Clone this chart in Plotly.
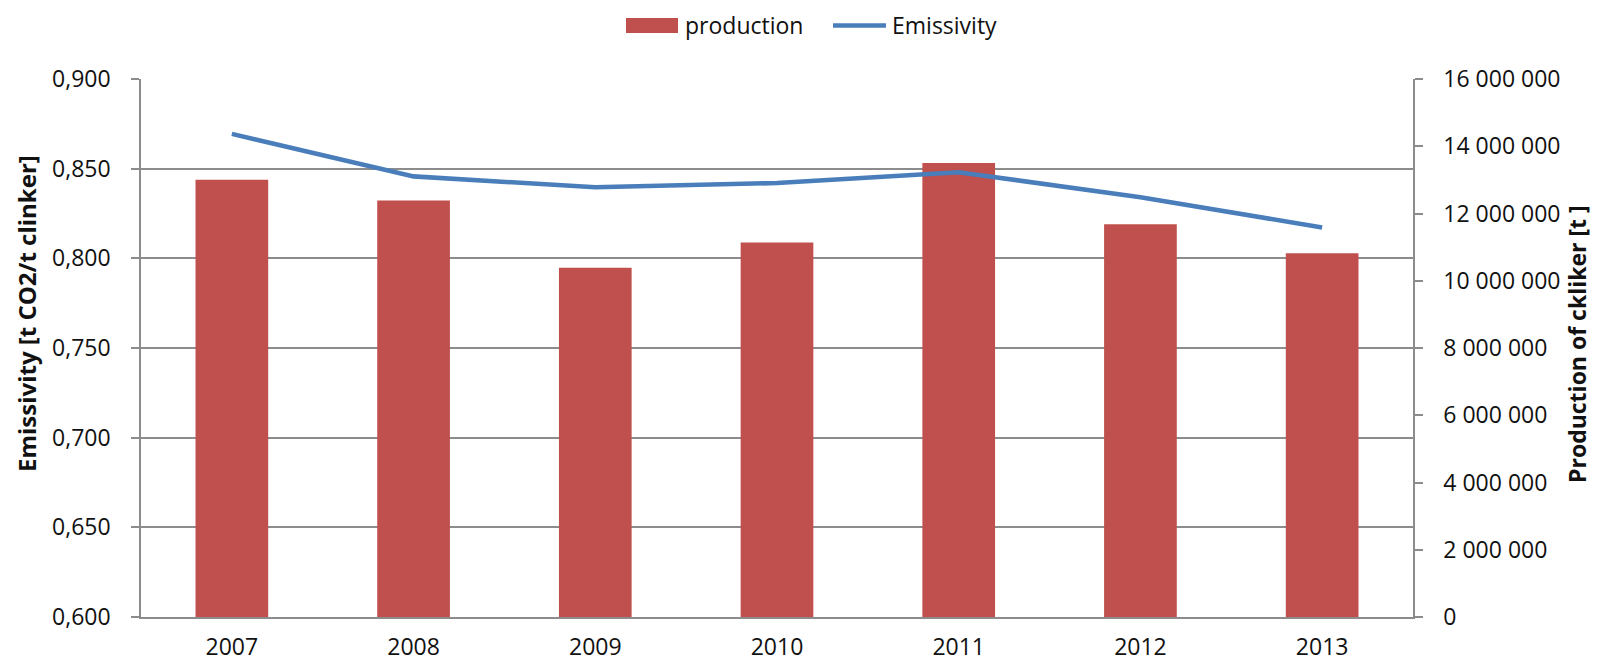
import plotly.graph_objects as go

years = ["2007", "2008", "2009", "2010", "2011", "2012", "2013"]
production = [13005000, 12390000, 10390000, 11135000, 13500000, 11680000, 10816000]
emissivity = [0.8694, 0.8457, 0.8396, 0.8420, 0.8480, 0.8341, 0.8172]

GRAY = "#8c8c8c"
FONT = "Open Sans"
BAR_COLOR = "#C0504D"
LINE_COLOR = "#4A7EBB"
TEXT = "#111111"

# plot area in pixels
W_FIG, H_FIG = 1599, 663
L, R, T, B = 141, 186, 79, 46
PW = W_FIG - L - R
PH = H_FIG - T - B


def px(xp):
    return (xp - L) / PW


def py(yp):
    return (H_FIG - B - yp) / PH


fig = go.Figure()
fig.add_trace(go.Bar(
    x=years, y=production, name="production",
    marker=dict(color=BAR_COLOR, line=dict(width=0)),
    yaxis="y", showlegend=False,
))
fig.add_trace(go.Scatter(
    x=years, y=emissivity, name="Emissivity", mode="lines",
    line=dict(color=LINE_COLOR, width=4.6),
    yaxis="y2", showlegend=False,
))

# legend (drawn as layout decorations)
shapes = [
    dict(type="rect", xref="paper", yref="paper",
         x0=px(626), x1=px(678), y0=py(33), y1=py(18),
         fillcolor=BAR_COLOR, line=dict(width=0)),
    dict(type="line", xref="paper", yref="paper",
         x0=px(833), x1=px(886), y0=py(25.5), y1=py(25.5),
         line=dict(color=LINE_COLOR, width=4.6)),
]
annotations = [
    dict(text="production", xref="paper", yref="paper", x=px(683), y=py(25.5),
         xanchor="left", yanchor="middle", showarrow=False,
         font=dict(family=FONT, size=23, color=TEXT)),
    dict(text="Emissivity", xref="paper", yref="paper", x=px(890), y=py(25.5),
         xanchor="left", yanchor="middle", showarrow=False,
         font=dict(family=FONT, size=23, color=TEXT)),
    dict(text="<b>Emissivity [t CO2/t clinker]</b>", textangle=-90,
         xref="paper", yref="paper", x=px(26), y=py(314),
         xanchor="center", yanchor="middle", showarrow=False,
         font=dict(family=FONT, size=24, color=TEXT)),
    dict(text="<b>Production of ckliker [t ]</b>", textangle=-90,
         xref="paper", yref="paper", x=px(1577), y=py(344),
         xanchor="center", yanchor="middle", showarrow=False,
         font=dict(family=FONT, size=23, color=TEXT)),
]

fig.update_layout(
    width=W_FIG, height=H_FIG,
    margin=dict(l=L, r=R, t=T, b=B, autoexpand=False),
    paper_bgcolor="white", plot_bgcolor="white",
    separators=", ",
    font=dict(family=FONT, size=23, color=TEXT),
    bargap=0.6,
    showlegend=False,
    xaxis=dict(
        type="category", showline=True, linecolor=GRAY, linewidth=1.5,
        ticks="", showgrid=False, ticklabelstandoff=9,
    ),
    yaxis=dict(
        side="right", range=[0, 16000000], dtick=2000000, tickformat=",d",
        showgrid=False, showline=True, linecolor=GRAY, linewidth=1.5,
        ticks="outside", ticklen=8, tickcolor=GRAY, tickwidth=1.5,
        ticklabelstandoff=16, zeroline=False,
    ),
    yaxis2=dict(
        overlaying="y", side="left", range=[0.6, 0.9], dtick=0.05, tickformat=".3f",
        showgrid=True, gridcolor=GRAY, gridwidth=1.5,
        showline=True, linecolor=GRAY, linewidth=1.5,
        ticks="outside", ticklen=8, tickcolor=GRAY, tickwidth=1.5,
        ticklabelstandoff=16, zeroline=False,
    ),
    shapes=shapes,
    annotations=annotations,
)

fig.write_html("out.html")
